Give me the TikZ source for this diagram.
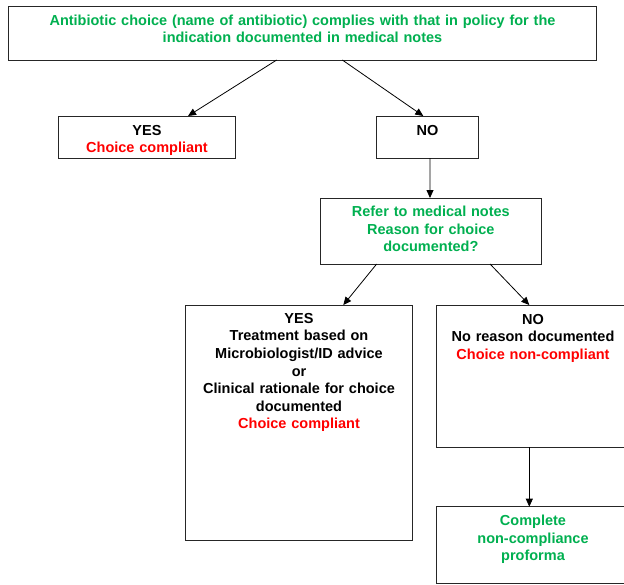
\documentclass[tikz,border=0pt]{standalone}
\usepackage{fontspec}
\setmainfont{Liberation Sans}
\usetikzlibrary{arrows.meta}
\definecolor{okgreen}{RGB}{0,176,80}
\definecolor{badred}{RGB}{255,0,0}
\begin{document}
\begin{tikzpicture}[x=1pt,y=-1pt,
  box/.style={draw=black!85, line width=0.9pt, anchor=north west, inner sep=0pt, outer sep=0pt},
  txt/.style={anchor=base, inner sep=0pt, align=center, font=\fontsize{14.5}{17.6}\selectfont\bfseries},
  arr/.style={-{Triangle[length=8pt,width=7pt]}, line width=0.8pt}]
\useasboundingbox (0,0) rectangle (624,584);
\fill[white] (0,0) rectangle (624,584);
\clip (0,0) rectangle (624,584);

% boxes
\node[box, minimum width=588.4pt, minimum height=54pt] (top) at (8.3,6) {};
\node[box, minimum width=177.4pt, minimum height=42pt] (yes1) at (58.3,116) {};
\node[box, minimum width=101.6pt, minimum height=42pt] (no1) at (376.7,116) {};
\node[box, minimum width=221.7pt, minimum height=66pt] (refer) at (320,198) {};
\node[box, minimum width=226.6pt, minimum height=235.7pt] (yes2) at (185.7,305) {};
\node[box, minimum width=194pt, minimum height=142.3pt] (no2) at (436,305) {};
\node[box, minimum width=194pt, minimum height=77pt] (comp) at (436,506.7) {};

% texts
\node[txt, text width=580pt, text=okgreen] (toptext) at (302.5,25)
  {Antibiotic choice (name of antibiotic) complies with that in policy for the\\indication documented in medical notes};
\node[txt, text width=170pt] (yes1text) at (147,135)
  {YES\\\textcolor{badred}{Choice compliant}};
\node[txt, text width=100pt] (no1text) at (427.5,135) {NO};
\node[txt, text width=215pt, text=okgreen] (refertext) at (430.85,216.7)
  {Refer to medical notes\\Reason for choice\\documented?};
\node[txt, text width=220pt] (yes2text) at (299,323.3)
  {YES\\Treatment based on\\Microbiologist/ID advice\\or\\Clinical rationale for choice\\documented\\\textcolor{badred}{Choice compliant}};
\node[txt, text width=190pt] (no2text) at (533,324)
  {NO\\No reason documented\\\textcolor{badred}{Choice non-compliant}};
\node[txt, text width=190pt, text=okgreen] (comptext) at (533,525.7)
  {Complete\\non-compliance\\proforma};

% connectors
\draw[arr] ([xshift=-25.8pt]top.south) -- ([xshift=41pt]yes1.north);
\draw[arr] ([xshift=39.8pt]top.south) -- ([xshift=-4.2pt]no1.north);
\draw[arr] ([xshift=2.5pt]no1.south) -- ([xshift=-0.85pt]refer.north);
\draw[arr] ([xshift=-54.2pt]refer.south) -- ([xshift=44.3pt]yes2.north);
\draw[arr] ([xshift=59.2pt]refer.south) -- ([xshift=-3.7pt]no2.north);
\draw[arr] ([xshift=-3.7pt]no2.south) -- ([xshift=-3.7pt]comp.north);
\end{tikzpicture}
\end{document}
